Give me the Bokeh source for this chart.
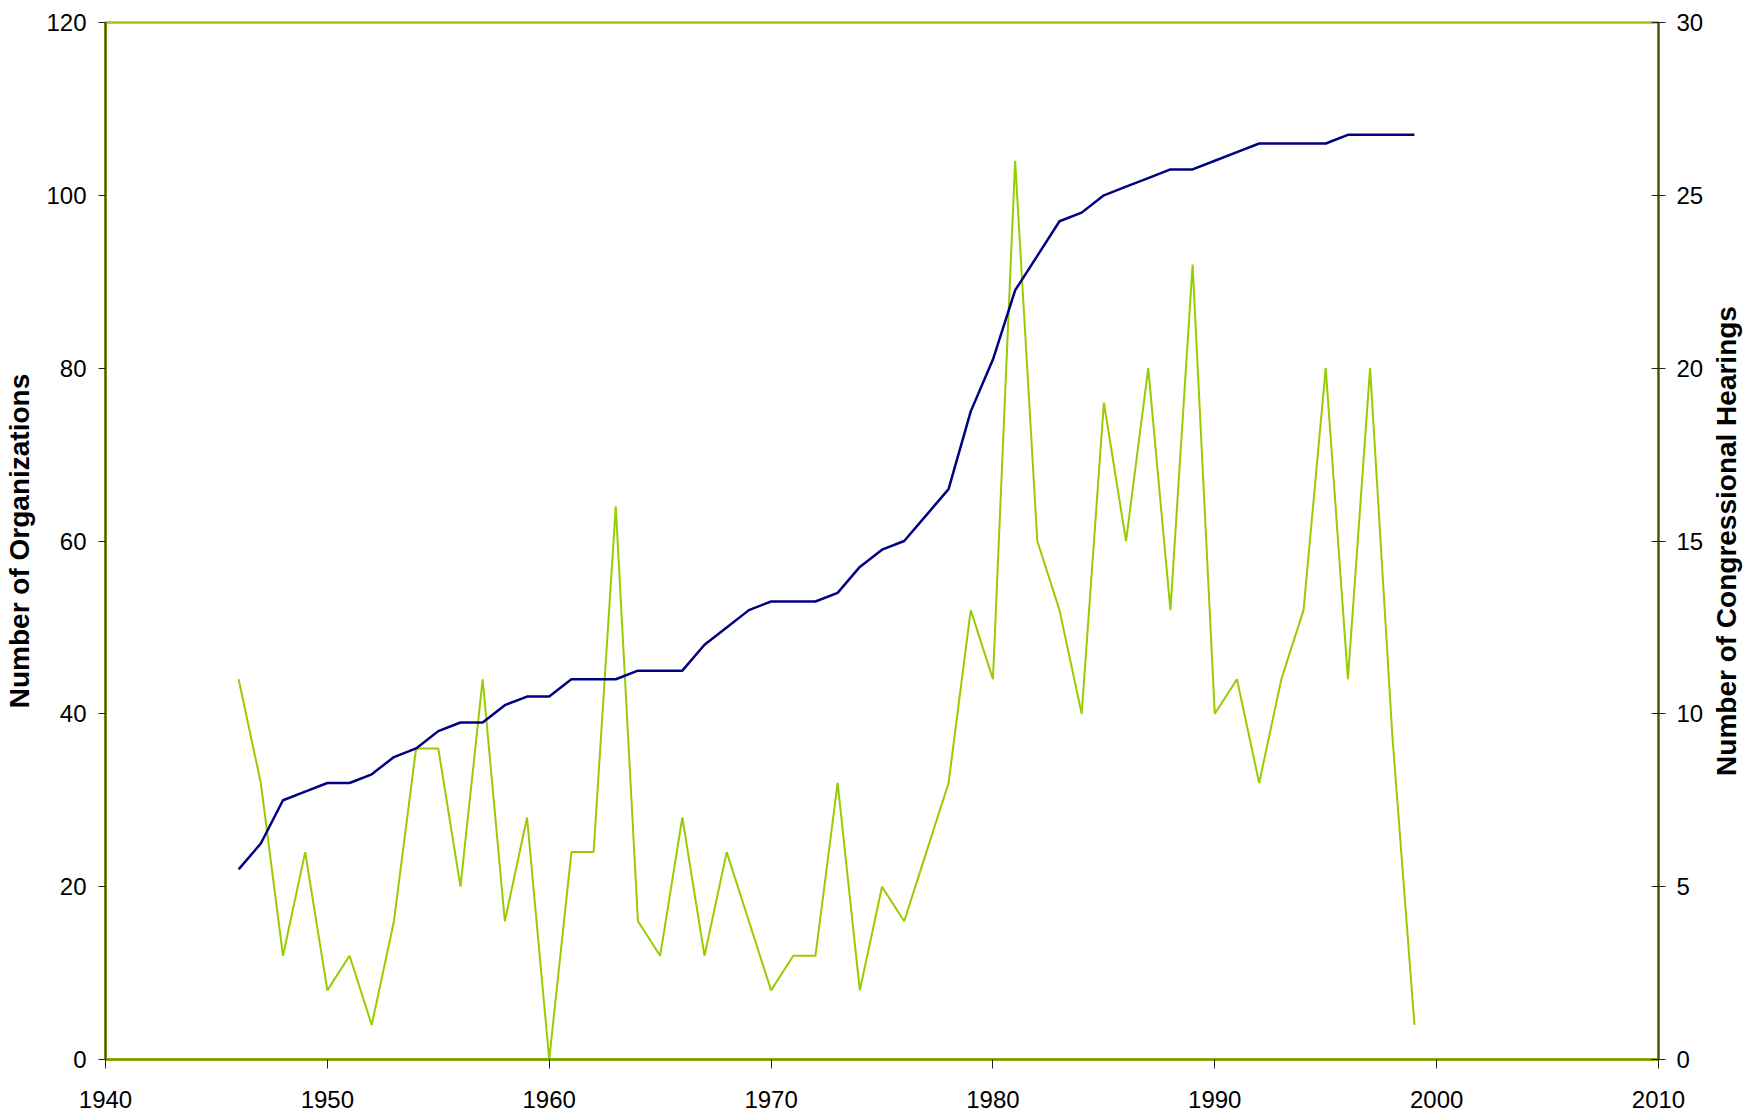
import math
from bokeh.plotting import figure
from bokeh.layouts import row
from bokeh.models import Range1d, LinearAxis, FixedTicker, Label
from bokeh.embed import file_html
from bokeh.resources import INLINE

years = list(range(1946, 2000))
organizations = [22, 25, 30, 31, 32, 32, 33, 35, 36, 38,
                 39, 39, 41, 42, 42, 44, 44, 44, 45, 45,
                 45, 48, 50, 52, 53, 53, 53, 54, 57, 59,
                 60, 63, 66, 75, 81, 89, 93, 97, 98, 100,
                 101, 102, 103, 103, 104, 105, 106, 106, 106, 106,
                 107, 107, 107, 107]
hearings = [11, 8, 3, 6, 2, 3, 1, 4, 9, 9,
            5, 11, 4, 7, 0, 6, 6, 16, 4, 3,
            7, 3, 6, 4, 2, 3, 3, 8, 2, 5,
            4, 6, 8, 13, 11, 26, 15, 13, 10, 19,
            15, 20, 13, 23, 10, 11, 8, 11, 13, 20,
            11, 20, 9.4, 1]

x_ticks = [1940, 1950, 1960, 1970, 1980, 1990, 2000, 2010]
left_ticks = [0, 20, 40, 60, 80, 100, 120]
right_ticks = [0, 5, 10, 15, 20, 25, 30]
left_title = "Number of Organizations"
right_title = "Number of Congressional Hearings"

FONT = "Liberation Sans"
GREEN = "#99cc00"
NAVY = "#000080"

p = figure(width=1706, height=1119, output_backend="svg", toolbar_location=None,
           x_range=Range1d(1940, 2010), y_range=Range1d(0, 120),
           min_border_left=105, min_border_right=46, min_border_top=22, min_border_bottom=60,
           x_axis_location=None, y_axis_location=None)
p.extra_y_ranges = {"hear": Range1d(0, 30)}
p.grid.visible = False
p.outline_line_color = GREEN
p.outline_line_width = 2.5
p.background_fill_color = "white"
p.border_fill_color = "white"

xaxis = LinearAxis(ticker=FixedTicker(ticks=x_ticks))
yaxis = LinearAxis(ticker=FixedTicker(ticks=left_ticks), axis_label=left_title)
raxis = LinearAxis(ticker=FixedTicker(ticks=right_ticks), y_range_name="hear")

for ax in (xaxis, yaxis, raxis):
    ax.major_label_text_font = FONT
    ax.major_label_text_font_size = "24px"
    ax.major_label_text_color = "black"
    ax.axis_label_text_font = FONT
    ax.axis_label_text_font_style = "bold"
    ax.axis_label_text_font_size = "28px"
    ax.axis_label_text_color = "black"
    ax.minor_tick_line_color = None
    ax.major_tick_line_color = "#222222"
    ax.major_tick_line_width = 1

xaxis.axis_line_color = "#7a9e00"
xaxis.axis_line_width = 2.5
xaxis.major_tick_in = 0
xaxis.major_tick_out = 9
xaxis.major_label_standoff = 22

yaxis.axis_line_color = "#3f5000"
yaxis.axis_line_width = 2
yaxis.major_tick_in = 0
yaxis.major_tick_out = 7
yaxis.major_label_standoff = 12
yaxis.axis_label_standoff = 8

raxis.axis_line_color = "#3f5000"
raxis.axis_line_width = 2
raxis.major_tick_in = 7
raxis.major_tick_out = 7
raxis.major_label_standoff = 11

p.add_layout(xaxis, "below")
p.add_layout(yaxis, "left")
p.add_layout(raxis, "right")

p.line(years, hearings, y_range_name="hear", line_color=GREEN, line_width=2)
p.line(years, organizations, line_color=NAVY, line_width=2.5)

# narrow companion figure carrying the right-hand axis title (reads bottom-to-top)
p2 = figure(width=48, height=1119, output_backend="svg", toolbar_location=None,
            x_range=Range1d(0, 1), y_range=Range1d(0, 1),
            min_border_left=0, min_border_right=0, min_border_top=22, min_border_bottom=60,
            x_axis_location=None, y_axis_location=None)
p2.grid.visible = False
p2.outline_line_color = None
p2.background_fill_color = "white"
p2.border_fill_color = "white"
p2.add_layout(Label(x=0.42, y=0.5, text=right_title, angle=math.pi / 2,
                    text_align="center", text_baseline="middle",
                    text_font=FONT, text_font_style="bold", text_font_size="28px",
                    text_color="black"))

layout = row(p, p2)
open("out.html", "w").write(file_html(layout, INLINE))
